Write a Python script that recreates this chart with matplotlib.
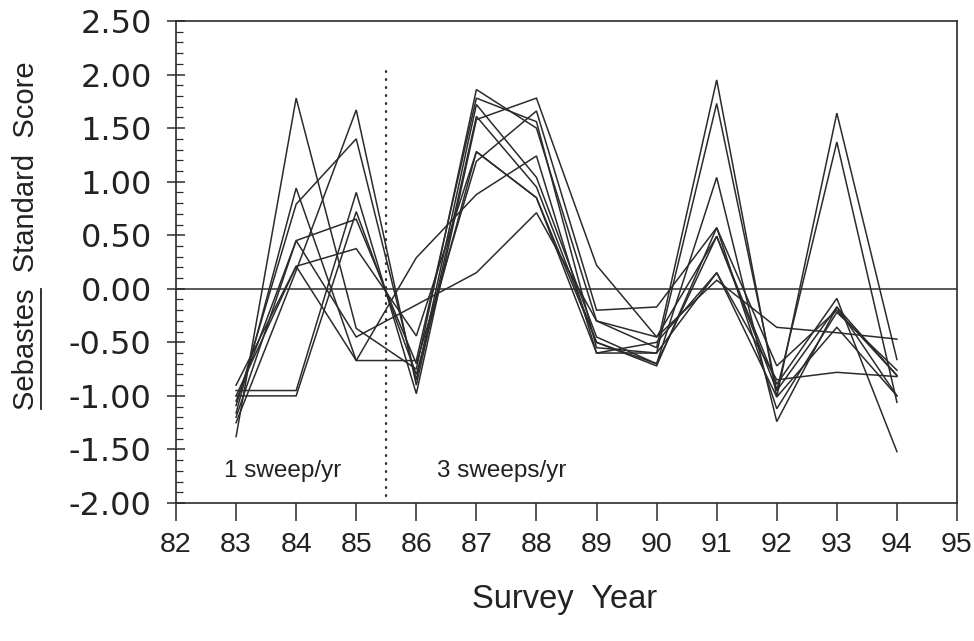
import matplotlib
matplotlib.use("Agg")
import matplotlib.pyplot as plt
from matplotlib.ticker import MultipleLocator, FixedLocator

years = [83, 84, 85, 86, 87, 88, 89, 90, 91, 92, 93, 94]

s01 = [-1.38, 1.78, -0.37, -0.75, 1.86, 1.50, -0.30, -0.55, 1.95, -1.01, 1.64, -0.66]
s02 = [-1.16, 0.94, -0.67, -0.67, 1.78, 1.56, -0.55, -0.60, 1.73, -0.95, 1.37, -1.06]
s03 = [-1.09, 0.79, 1.40, -0.85, 1.72, 1.04, -0.45, -0.70, 1.04, -1.24, -0.17, -1.00]
s04 = [-1.25, 0.17, 1.67, -0.90, 1.61, 0.95, -0.50, -0.72, 0.57, -1.12, -0.22, -0.76]
s05 = [-0.95, -0.95, 0.90, -0.98, 1.58, 1.78, 0.22, -0.45, 0.49, -0.89, -0.09, -1.52]
s06 = [-1.00, -1.00, 0.72, -0.80, 1.28, 0.85, -0.60, -0.50, 0.15, -1.01, -0.36, -1.00]
s07 = [-1.05, 0.45, 0.65, -0.70, 1.19, 1.66, -0.20, -0.17, 0.57, -0.72, -0.20, -0.81]
s08 = [-1.20, 0.45, -0.45, -0.15, 0.15, 0.71, -0.30, -0.45, 0.08, -0.36, -0.41, -0.47]
s09 = [-1.00, 0.21, -0.67, 0.29, 0.88, 1.24, -0.60, -0.60, 0.15, -0.85, -0.78, -0.82]
s10 = [-0.90, 0.21, 0.375, -0.44, 1.28, 0.85, -0.50, -0.70, 0.49, -0.95, -0.17, -0.81]
series = [s01, s02, s03, s04, s05, s06, s07, s08, s09, s10]

x_ticks = list(range(82, 96))
y_ticks = [2.5, 2.0, 1.5, 1.0, 0.5, 0.0, -0.5, -1.0, -1.5, -2.0]
y_tick_labels = ["2.50", "2.00", "1.50", "1.00", "0.50", "0.00", "-0.50", "-1.00", "-1.50", "-2.00"]
method_change = 85.5

FONT = ["Liberation Sans", "DejaVu Sans"]
WIDE = ["DejaVu Sans"]
plt.rcParams["font.family"] = FONT

fig = plt.figure(figsize=(9.74, 6.41), dpi=100)
ax = fig.add_axes([176/974, 1-503/641, (957-176)/974, (503-21)/641])

ink = "#2b2b2b"
txt = "#222222"
for s in series:
    ax.plot(years, s, color=ink, lw=1.1, solid_joinstyle="miter")

ax.axhline(0, color=ink, lw=1.1)
ax.plot([method_change, method_change], [-1.93, 2.07], color=ink, lw=1.6,
        linestyle=(0, (0.4, 3.2)), dash_capstyle="round")

ax.set_xlim(82, 95)
ax.set_ylim(-2.0, 2.5)
ax.xaxis.set_major_locator(FixedLocator(x_ticks))
ax.set_xticklabels([str(v) for v in x_ticks], fontsize=20.5)
ax.yaxis.set_major_locator(FixedLocator(y_ticks))
ax.set_yticklabels(y_tick_labels, family=WIDE, fontsize=23)
ax.yaxis.set_minor_locator(MultipleLocator(0.1))

for sp in ax.spines.values():
    sp.set_color(ink)
    sp.set_linewidth(1.2)

ax.tick_params(axis="x", which="major", direction="out", length=13, width=1.1,
               color=ink, pad=8, labelcolor=txt)
ax.tick_params(axis="y", which="major", direction="inout", length=13, width=1.1,
               color=ink, pad=11, labelcolor=txt)
ax.tick_params(axis="y", which="minor", direction="in", length=5, width=0.9, color=ink)

ax.text(83.78, -1.70, "1 sweep/yr", fontsize=17.5, ha="center", va="center", color=txt)
ax.text(87.42, -1.70, "3 sweeps/yr", fontsize=17.5, ha="center", va="center", color=txt)

# y label with underlined genus name
ylab = fig.text(0.027, 0.633, "Sebastes  Standard  Score", rotation=90, fontsize=21,
                ha="center", va="center", color=txt)
fig.text(0.58, 0.064, "Survey  Year", fontsize=23.5, ha="center", va="center", color=txt)

fig.canvas.draw()
r = fig.canvas.get_renderer()
bb = ylab.get_window_extent(r)
tmp = fig.text(0, 0, "Sebastes", fontsize=21, rotation=90)
tb = tmp.get_window_extent(r)
tmp.remove()
ux = bb.x1 + 1
fig.add_artist(plt.Line2D([ux/974, ux/974], [(bb.y0 + 1)/641, (bb.y0 + tb.height - 1)/641],
                          color=txt, lw=1.3, transform=fig.transFigure))

fig.savefig("out.png", dpi=100)
